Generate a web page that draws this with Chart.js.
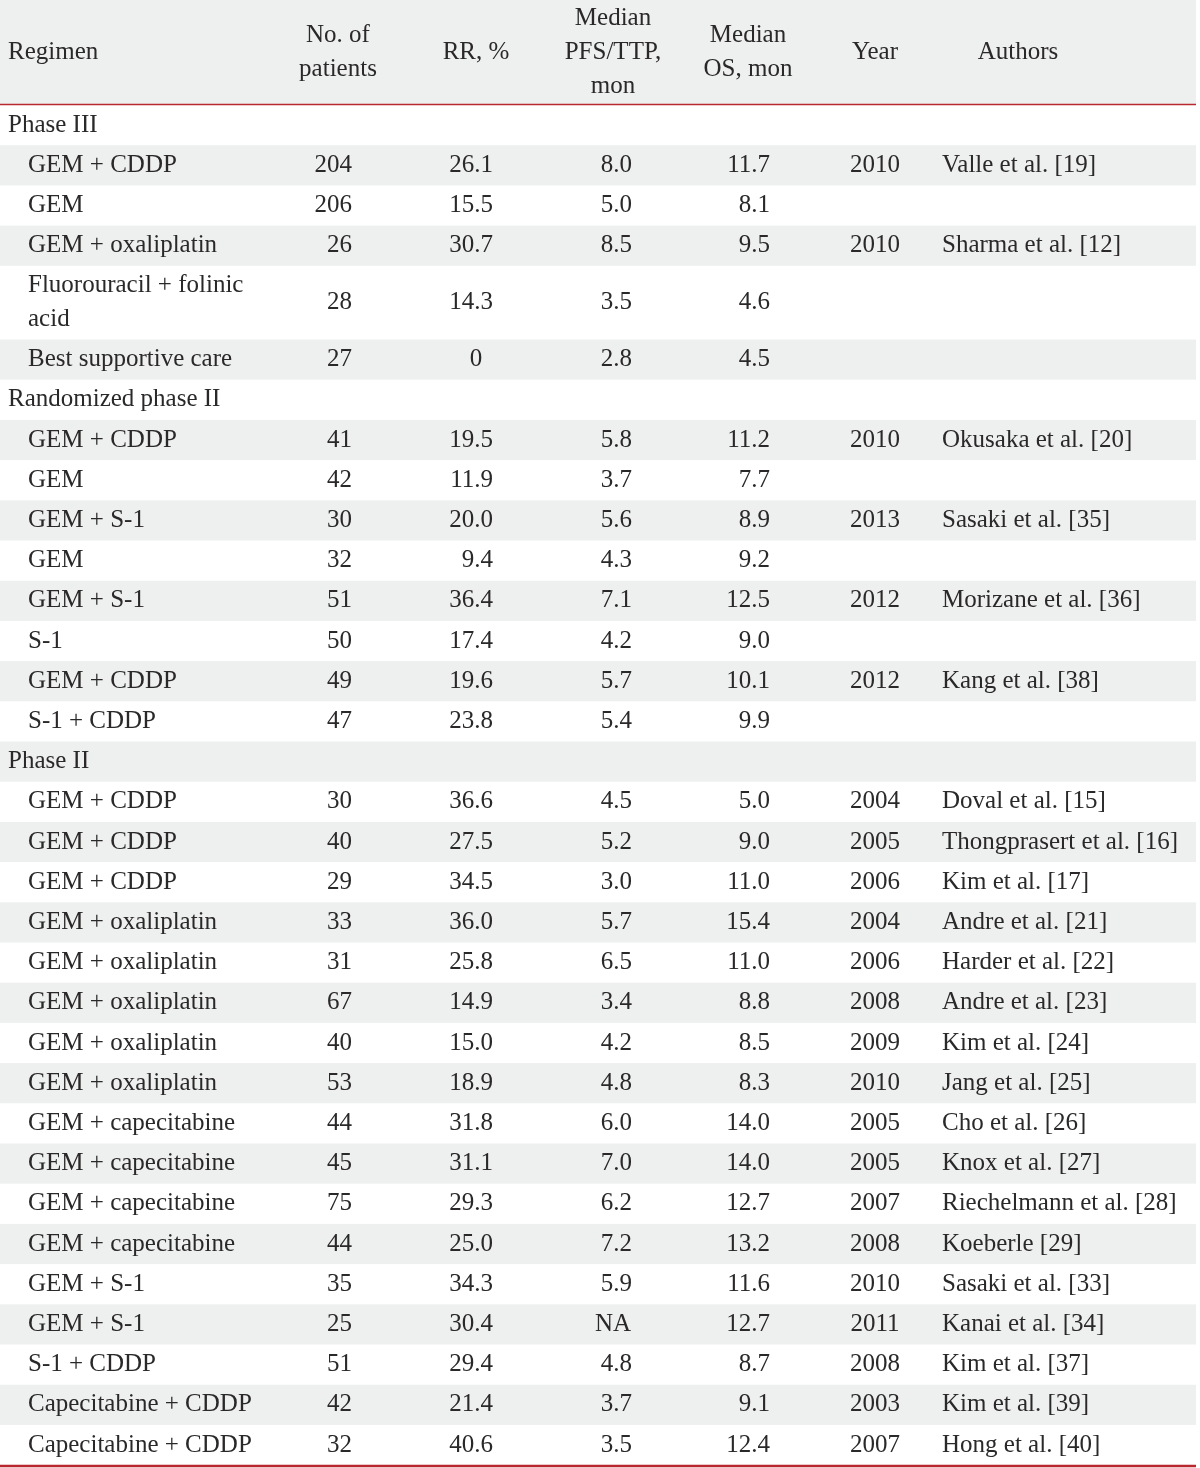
<!DOCTYPE html>
<html>
<head>
<meta charset="utf-8">
<script src="https://cdn.jsdelivr.net/npm/chart.js@4.4.1/dist/chart.umd.min.js"></script>
<style>
  html, body { margin: 0; padding: 0; background: #fff; }
  #wrap { width: 1200px; height: 1468px; }
</style>
</head>
<body>
<div id="wrap"><canvas id="table-chart"></canvas></div>
<script>
const headers = [['Regimen'], ['No. of', 'patients'], ['RR, %'], ['Median', 'PFS/TTP,', 'mon'], ['Median', 'OS, mon'], ['Year'], ['Authors']];

// group rows have null in every value column
const regimens = [
    'Phase III', 'GEM + CDDP', 'GEM', 'GEM + oxaliplatin', 'Fluorouracil + folinic acid', 'Best supportive care',
    'Randomized phase II', 'GEM + CDDP', 'GEM', 'GEM + S-1', 'GEM', 'GEM + S-1', 'S-1', 'GEM + CDDP', 'S-1 + CDDP',
    'Phase II', 'GEM + CDDP', 'GEM + CDDP', 'GEM + CDDP', 'GEM + oxaliplatin', 'GEM + oxaliplatin', 'GEM + oxaliplatin',
    'GEM + oxaliplatin', 'GEM + oxaliplatin', 'GEM + capecitabine', 'GEM + capecitabine', 'GEM + capecitabine',
    'GEM + capecitabine', 'GEM + S-1', 'GEM + S-1', 'S-1 + CDDP', 'Capecitabine + CDDP', 'Capecitabine + CDDP'
];
const patients = [null, '204', '206', '26', '28', '27', null, '41', '42', '30', '32', '51', '50', '49', '47',
    null, '30', '40', '29', '33', '31', '67', '40', '53', '44', '45', '75', '44', '35', '25', '51', '42', '32'];
const rr = [null, '26.1', '15.5', '30.7', '14.3', '0', null, '19.5', '11.9', '20.0', '9.4', '36.4', '17.4', '19.6', '23.8',
    null, '36.6', '27.5', '34.5', '36.0', '25.8', '14.9', '15.0', '18.9', '31.8', '31.1', '29.3', '25.0', '34.3', '30.4', '29.4', '21.4', '40.6'];
const pfs = [null, '8.0', '5.0', '8.5', '3.5', '2.8', null, '5.8', '3.7', '5.6', '4.3', '7.1', '4.2', '5.7', '5.4',
    null, '4.5', '5.2', '3.0', '5.7', '6.5', '3.4', '4.2', '4.8', '6.0', '7.0', '6.2', '7.2', '5.9', 'NA', '4.8', '3.7', '3.5'];
const os = [null, '11.7', '8.1', '9.5', '4.6', '4.5', null, '11.2', '7.7', '8.9', '9.2', '12.5', '9.0', '10.1', '9.9',
    null, '5.0', '9.0', '11.0', '15.4', '11.0', '8.8', '8.5', '8.3', '14.0', '14.0', '12.7', '13.2', '11.6', '12.7', '8.7', '9.1', '12.4'];
const years = [null, '2010', '', '2010', '', '', null, '2010', '', '2013', '', '2012', '', '2012', '',
    null, '2004', '2005', '2006', '2004', '2006', '2008', '2009', '2010', '2005', '2005', '2007', '2008', '2010', '2011', '2008', '2003', '2007'];
const authors = [null, 'Valle et al. [19]', '', 'Sharma et al. [12]', '', '', null, 'Okusaka et al. [20]', '', 'Sasaki et al. [35]', '',
    'Morizane et al. [36]', '', 'Kang et al. [38]', '',
    null, 'Doval et al. [15]', 'Thongprasert et al. [16]', 'Kim et al. [17]', 'Andre et al. [21]', 'Harder et al. [22]',
    'Andre et al. [23]', 'Kim et al. [24]', 'Jang et al. [25]', 'Cho et al. [26]', 'Knox et al. [27]', 'Riechelmann et al. [28]',
    'Koeberle [29]', 'Sasaki et al. [33]', 'Kanai et al. [34]', 'Kim et al. [37]', 'Kim et al. [39]', 'Hong et al. [40]'];

// layout
const W = 1200, H = 1468, HEAD_H = 104, ROW_H = 40.2, LINE_H = 33.5;
const FONT = '25px "Liberation Serif"';
const INK = '#2a2828';
const STRIPE = '#eef0ef';
const RED = '#b8282e';
const headerX = [8, 338, 476, 613, 748, 875, 1018];

const measure = document.createElement('canvas').getContext('2d');
measure.font = FONT;
function wrap(text, maxW) {
    const words = text.split(' ');
    const lines = [];
    let cur = '';
    words.forEach(w => {
        const t = cur ? cur + ' ' + w : w;
        if (cur && measure.measureText(t).width > maxW) { lines.push(cur); cur = w; } else { cur = t; }
    });
    lines.push(cur);
    return lines;
}

const isGroup = patients.map(p => p === null);
const labelLines = regimens.map((r, i) => isGroup[i] ? [r] : wrap(r, 250));

const rowCenter = [];
const rowBounds = [];
let rowTop = HEAD_H + 1;
labelLines.forEach(lines => {
    const h = ROW_H + (lines.length - 1) * LINE_H;
    rowCenter.push(rowTop + h / 2);
    rowBounds.push([rowTop, rowTop + h]);
    rowTop += h;
});
const tableBottom = rowTop;

const columns = [
    { cells: patients, x: 352, align: 'right' },
    { cells: rr, x: 493, align: 'right', alt: 476 },
    { cells: pfs, x: 632, align: 'right', alt: 613 },
    { cells: os, x: 770, align: 'right' },
    { cells: years, x: 875, align: 'center' },
    { cells: authors, x: 942, align: 'left' }
];

const datasets = [{
    label: 'Regimen',
    cells: labelLines,
    aligns: regimens.map(() => 'left'),
    data: regimens.map((r, i) => ({ x: isGroup[i] ? 8 : 28, y: rowCenter[i] }))
}];
columns.forEach((c, k) => {
    const idx = c.cells.map((v, i) => i).filter(i => c.cells[i]);
    const plain = i => c.alt && c.cells[i].indexOf('.') < 0;
    datasets.push({
        label: headers[k + 1].join(' '),
        cells: idx.map(i => [c.cells[i]]),
        aligns: idx.map(i => plain(i) ? 'center' : c.align),
        data: idx.map(i => ({ x: plain(i) ? c.alt : c.x, y: rowCenter[i] }))
    });
});
datasets.forEach(d => { d.pointRadius = 0; d.pointHoverRadius = 0; });

const tablePlugin = {
    id: 'tablePlugin',
    beforeDatasetsDraw(chart) {
        const { ctx, scales: { x, y } } = chart;
        const x0 = x.getPixelForValue(0), x1 = x.getPixelForValue(1196);
        ctx.save();
        ctx.fillStyle = '#eeefef';
        ctx.fillRect(x0, y.getPixelForValue(0), x1 - x0, y.getPixelForValue(HEAD_H) - y.getPixelForValue(0));
        ctx.fillStyle = STRIPE;
        rowBounds.forEach((b, i) => {
            if (i % 2 === 1) {
                const t = y.getPixelForValue(b[0]), btm = y.getPixelForValue(b[1]);
                ctx.fillRect(x0, t, x1 - x0, btm - t);
            }
        });
        ctx.strokeStyle = RED;
        ctx.lineWidth = 1.5;
        ctx.beginPath();
        ctx.moveTo(x0, y.getPixelForValue(HEAD_H) + 0.5);
        ctx.lineTo(x1, y.getPixelForValue(HEAD_H) + 0.5);
        ctx.stroke();
        ctx.lineWidth = 2.5;
        ctx.beginPath();
        ctx.moveTo(x0, y.getPixelForValue(tableBottom) + 1);
        ctx.lineTo(x1, y.getPixelForValue(tableBottom) + 1);
        ctx.stroke();

        // header text
        ctx.fillStyle = INK;
        ctx.font = FONT;
        ctx.textBaseline = 'middle';
        headers.forEach((lines, k) => {
            ctx.textAlign = k === 0 ? 'left' : 'center';
            const mid = HEAD_H / 2;
            lines.forEach((ln, j) => {
                const v = mid + (j - (lines.length - 1) / 2) * 34;
                ctx.fillText(ln, x.getPixelForValue(headerX[k]), y.getPixelForValue(v));
            });
        });
        ctx.restore();
    },
    afterDatasetsDraw(chart) {
        const { ctx } = chart;
        ctx.save();
        ctx.fillStyle = INK;
        ctx.font = FONT;
        ctx.textBaseline = 'middle';
        chart.data.datasets.forEach((ds, i) => {
            const meta = chart.getDatasetMeta(i);
            meta.data.forEach((pt, j) => {
                const lines = ds.cells[j];
                ctx.textAlign = ds.aligns[j];
                lines.forEach((ln, n) => {
                    ctx.fillText(ln, pt.x, pt.y + (n - (lines.length - 1) / 2) * LINE_H);
                });
            });
        });
        ctx.restore();
    }
};

new Chart(document.getElementById('table-chart'), {
    type: 'scatter',
    data: { datasets: datasets },
    options: {
        responsive: true,
        maintainAspectRatio: false,
        animation: false,
        events: [],
        layout: { padding: 0 },
        plugins: { legend: { display: false }, tooltip: { enabled: false } },
        scales: {
            x: { type: 'linear', min: 0, max: W, display: false },
            y: { type: 'linear', min: 0, max: H, reverse: true, display: false }
        }
    },
    plugins: [tablePlugin]
});
</script>
</body>
</html>
